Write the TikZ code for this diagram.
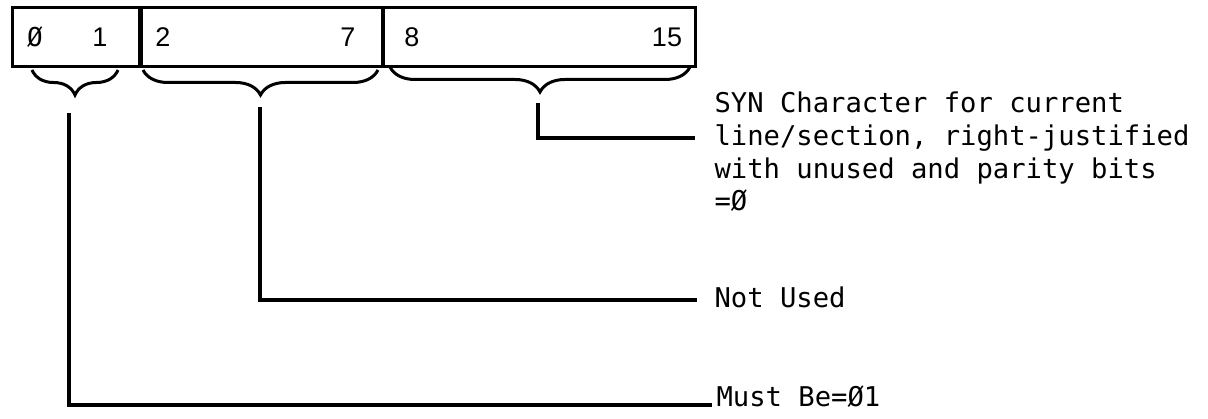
\documentclass[tikz,border=0pt]{standalone}
\usepackage{fontspec}
\setmonofont{DejaVu Sans Mono}
\setsansfont{Liberation Sans}
\usetikzlibrary{decorations.pathreplacing}
\begin{document}
\begin{tikzpicture}[x=1pt,y=-1pt,line width=3.2pt,
  field/.style={draw,line width=3pt,minimum height=59pt,inner sep=0pt},
  digit/.style={font=\fontsize{27}{32}\sffamily,inner sep=0pt},
  bracestyle/.style={decorate,line width=3pt,decoration={brace,mirror,amplitude=25pt,raise=0pt}},
  note/.style={font=\fontsize{27.2}{32.7}\ttfamily,inner sep=0pt,anchor=base west,align=left},
  conn/.style={line width=3.2pt}]
\useasboundingbox (0,0) rectangle (1208,419);
% fields
\node[field,minimum width=127pt] (f1) at (75.5,37.5) {};
\node[field,minimum width=241pt] (f2) at (261.5,37.5) {};
\node[field,minimum width=312pt] (f3) at (539,37.5) {};
% bit numbers
\node[digit,font=\fontsize{26}{32}\ttfamily] (b0) at (35,37) {Ø};
\node[digit] (b1) at (100,37) {1};
\node[digit] (b2) at (163,37) {2};
\node[digit] (b7) at (348,37) {7};
\node[digit] (b8) at (412,37) {8};
\node[digit] (b15) at (667,37) {15};
% braces
\draw[bracestyle] (32,70) -- (118,70);
\draw[bracestyle] (143,70) -- (378,70);
\draw[bracestyle] (390,67) -- (690,67);
% texts
\node[note] (syn) at (713,211) {SYN Character for current\\line/section, right-justified\\with unused and parity bits\\=Ø};
\node[note] (nu) at (713,308) {Not Used};
\node[note] (mb) at (715,407) {Must Be=Ø1};
% connector coordinates
\coordinate (s1) at (538,103);
\coordinate (s2) at (695,138);
\coordinate (n1) at (260,107);
\coordinate (n2) at (697,300);
\coordinate (m1) at (69,113);
\coordinate (m2) at (712,405);
\draw[conn] (s1) |- (s2);
\draw[conn] (n1) |- (n2);
\draw[conn] (m1) |- (m2);
\end{tikzpicture}
\end{document}
